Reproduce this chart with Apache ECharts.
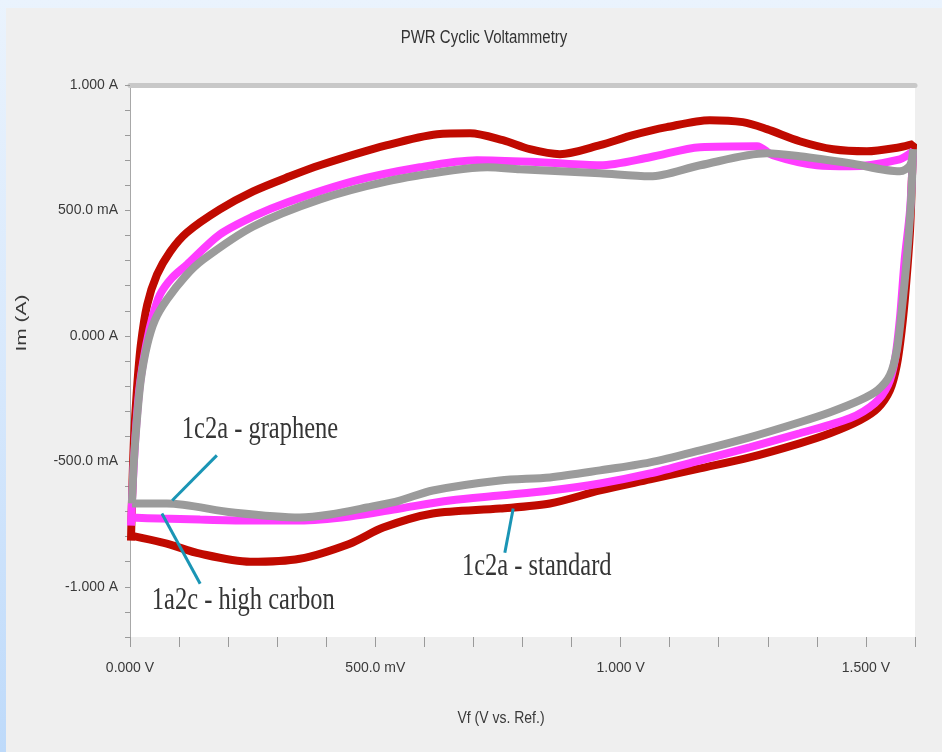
<!DOCTYPE html>
<html>
<head>
<meta charset="utf-8">
<title>PWR Cyclic Voltammetry</title>
<script src="https://cdn.jsdelivr.net/npm/echarts@6/dist/echarts.min.js"></script>
<style>
html, body { margin: 0; padding: 0; width: 942px; height: 752px; overflow: hidden;
  background: linear-gradient(180deg, #eaf3fd 0%, #d7e8fc 50%, #bedafa 100%); }
#panel { position: absolute; left: 6px; top: 8px; width: 936px; height: 744px; background: #efefef; }
#main { position: absolute; left: 0; top: 0; width: 942px; height: 752px; }
</style>
</head>
<body>
<div id="panel"></div>
<div id="main"></div>
<script>
var cvChart = echarts.init(document.getElementById('main'));

// tick labels (only every 0.5 gets a label)
var xTickVals = [0, 0.5, 1.0, 1.5];
var xTickLabels = ['0.000 V', '500.0 mV', '1.000 V', '1.500 V'];
var yTickVals = [1.0, 0.5, 0, -0.5, -1.0];
var yTickLabels = ['1.000 A', '500.0 mA', '0.000 A', '-500.0 mA', '-1.000 A'];

// 1c2a - standard (red)
var stdV = [0.002, 0.004, 0.008, 0.014, 0.022, 0.035, 0.055, 0.082, 0.116, 0.183,
    0.251, 0.326, 0.387, 0.524, 0.626, 0.693, 0.760, 0.815, 0.876, 0.958,
    1.025, 1.094, 1.182, 1.249, 1.298, 1.365, 1.433, 1.502, 1.569, 1.596,
    1.594, 1.590, 1.581, 1.573, 1.563, 1.549, 1.524, 1.488, 1.427, 1.365,
    1.263, 1.162, 1.060, 0.958, 0.856, 0.754, 0.617, 0.516, 0.448, 0.346,
    0.245, 0.143, 0.075, 0.002];
var stdI = [-0.816, -0.656, -0.416, -0.216, -0.036, 0.124, 0.244, 0.336, 0.412, 0.504,
    0.576, 0.636, 0.680, 0.760, 0.804, 0.808, 0.780, 0.744, 0.724, 0.760,
    0.800, 0.832, 0.860, 0.852, 0.824, 0.776, 0.744, 0.736, 0.752, 0.764,
    0.644, 0.424, 0.184, 0.024, -0.116, -0.216, -0.288, -0.336, -0.388, -0.428,
    -0.484, -0.528, -0.572, -0.616, -0.668, -0.688, -0.708, -0.764, -0.828, -0.888,
    -0.900, -0.868, -0.828, -0.796];

// 1a2c - high carbon (magenta)
var hcV = [0.002, 0.006, 0.012, 0.020, 0.033, 0.047, 0.061, 0.086, 0.116, 0.183,
    0.251, 0.320, 0.454, 0.591, 0.707, 0.836, 0.958, 1.060, 1.162, 1.278,
    1.310, 1.400, 1.467, 1.569, 1.596,
    1.590, 1.579, 1.569, 1.559, 1.545, 1.518, 1.467, 1.365, 1.263, 1.162,
    1.060, 0.958, 0.856, 0.754, 0.652, 0.550, 0.448, 0.346, 0.245, 0.143,
    0.061, 0.002];
var hcI = [-0.756, -0.576, -0.376, -0.196, -0.036, 0.084, 0.164, 0.232, 0.284, 0.404,
    0.476, 0.532, 0.616, 0.672, 0.700, 0.692, 0.680, 0.712, 0.752, 0.756,
    0.720, 0.680, 0.676, 0.704, 0.736,
    0.504, 0.304, 0.064, -0.096, -0.196, -0.268, -0.328, -0.388, -0.444, -0.496,
    -0.548, -0.588, -0.616, -0.636, -0.656, -0.688, -0.720, -0.736, -0.736, -0.732,
    -0.728, -0.724];

// 1c2a - graphene (grey)
var grV = [0.004, 0.008, 0.014, 0.022, 0.035, 0.051, 0.075, 0.112, 0.149, 0.251,
    0.387, 0.524, 0.658, 0.728, 0.795, 0.958, 1.060, 1.162, 1.298, 1.365,
    1.467, 1.569, 1.590, 1.596,
    1.592, 1.583, 1.573, 1.563, 1.549, 1.524, 1.488, 1.427, 1.365, 1.263,
    1.162, 1.060, 0.958, 0.856, 0.754, 0.617, 0.550, 0.483, 0.408, 0.346,
    0.210, 0.075, 0.004];
var grI = [-0.668, -0.496, -0.336, -0.176, -0.036, 0.064, 0.144, 0.236, 0.304, 0.436,
    0.544, 0.616, 0.660, 0.672, 0.664, 0.648, 0.636, 0.680, 0.728, 0.716,
    0.688, 0.656, 0.680, 0.744,
    0.544, 0.304, 0.104, -0.056, -0.156, -0.216, -0.256, -0.304, -0.344, -0.404,
    -0.456, -0.504, -0.536, -0.564, -0.576, -0.616, -0.656, -0.684, -0.712, -0.724,
    -0.704, -0.668, -0.668];

// annotations (data coords)
var noteText = ['1c2a - graphene', '1a2c - high carbon', '1c2a - standard'];
var noteAt = [[0.265, -0.372], [0.231, -1.056], [0.829, -0.920]];
var pointerFrom = [[0.177, -0.476], [0.143, -0.988], [0.764, -0.864]];
var pointerTo = [[0.086, -0.656], [0.065, -0.708], [0.781, -0.688]];

function pairs(v, i) {
    return v.map(function (x, k) { return [x, i[k]]; });
}
function tickFmt(vals, labels) {
    return function (v) {
        for (var k = 0; k < vals.length; k++) {
            if (Math.abs(v - vals[k]) < 1e-6) return labels[k];
        }
        return '';
    };
}

var axisFont = "'Liberation Sans', Arial, sans-serif";

function cvSeries(name, data, color) {
    return {
        name: name,
        type: 'line',
        data: data,
        showSymbol: false,
        smooth: 0.3,
        lineStyle: { color: color, width: 8 },
        itemStyle: { color: color },
        z: 3
    };
}

var pointers = pointerFrom.map(function (p, k) {
    return { coords: [p, pointerTo[k]] };
});

option = {
    animation: false,
    grid: {
        left: 130, right: 27, top: 85, bottom: 115,
        show: true, backgroundColor: '#ffffff', borderWidth: 0
    },
    xAxis: [{
        type: 'value',
        min: 0, max: 1.6, interval: 0.1,
        axisLine: { show: false, onZero: false },
        axisTick: { show: true, length: 10, lineStyle: { color: '#9a9a9a' } },
        splitLine: { show: false },
        axisLabel: {
            margin: 24, color: '#3a3a3a', fontSize: 14, fontFamily: axisFont,
            formatter: tickFmt(xTickVals, xTickLabels)
        }
    }, {
        // grey bar above the plot
        type: 'value', position: 'top',
        min: 0, max: 1.6,
        axisLine: { show: true, onZero: false, lineStyle: { color: '#c8c8c8', width: 5 } },
        axisTick: { show: false },
        axisLabel: { show: false },
        splitLine: { show: false }
    }],
    yAxis: {
        type: 'value',
        min: -1.2, max: 1.0, interval: 0.1,
        axisLine: { show: true, onZero: false, lineStyle: { color: '#a8a8a8', width: 1 } },
        axisTick: { show: true, length: 5, lineStyle: { color: '#9a9a9a' } },
        splitLine: { show: false },
        axisLabel: {
            margin: 12, color: '#3a3a3a', fontSize: 14, fontFamily: axisFont,
            formatter: tickFmt(yTickVals, yTickLabels)
        }
    },
    series: [
        cvSeries('1c2a - standard', pairs(stdV, stdI), '#c00a00'),
        cvSeries('1a2c - high carbon', pairs(hcV, hcI), '#ff3dff'),
        cvSeries('1c2a - graphene', pairs(grV, grI), '#9b9b9b'),
        {
            type: 'lines',
            coordinateSystem: 'cartesian2d',
            data: pointers,
            lineStyle: { color: '#1a95b5', width: 3, opacity: 1 },
            z: 5
        }
    ]
};
cvChart.setOption(option);

// text labels placed through the chart's own scales
var texts = noteText.map(function (t, k) {
    var p = cvChart.convertToPixel({ gridIndex: 0 }, noteAt[k]);
    return {
        type: 'text', x: p[0], y: p[1], scaleY: 1.3, z: 10,
        style: {
            text: t, x: 0, y: 0, align: 'center', verticalAlign: 'middle',
            font: '24.5px "Liberation Serif", "Times New Roman", serif', fill: '#353535'
        }
    };
});
texts.push({
    type: 'text', x: 484, y: 38, scaleY: 1.25, z: 10,
    style: { text: 'PWR Cyclic Voltammetry', x: 0, y: 0, align: 'center', verticalAlign: 'middle',
        font: '15px ' + axisFont, fill: '#333' }
});
texts.push({
    type: 'text', x: 22, y: 323, rotation: Math.PI / 2, scaleX: 1.5, z: 10,
    style: { text: 'Im (A)', x: 0, y: 0, align: 'center', verticalAlign: 'middle',
        font: '14px ' + axisFont, fill: '#3a3a3a' }
});
texts.push({
    type: 'text', x: 501, y: 718, scaleY: 1.2, z: 10,
    style: { text: 'Vf (V vs. Ref.)', x: 0, y: 0, align: 'center', verticalAlign: 'middle',
        font: '14px ' + axisFont, fill: '#3a3a3a' }
});
cvChart.setOption({ graphic: texts });
</script>
</body>
</html>
